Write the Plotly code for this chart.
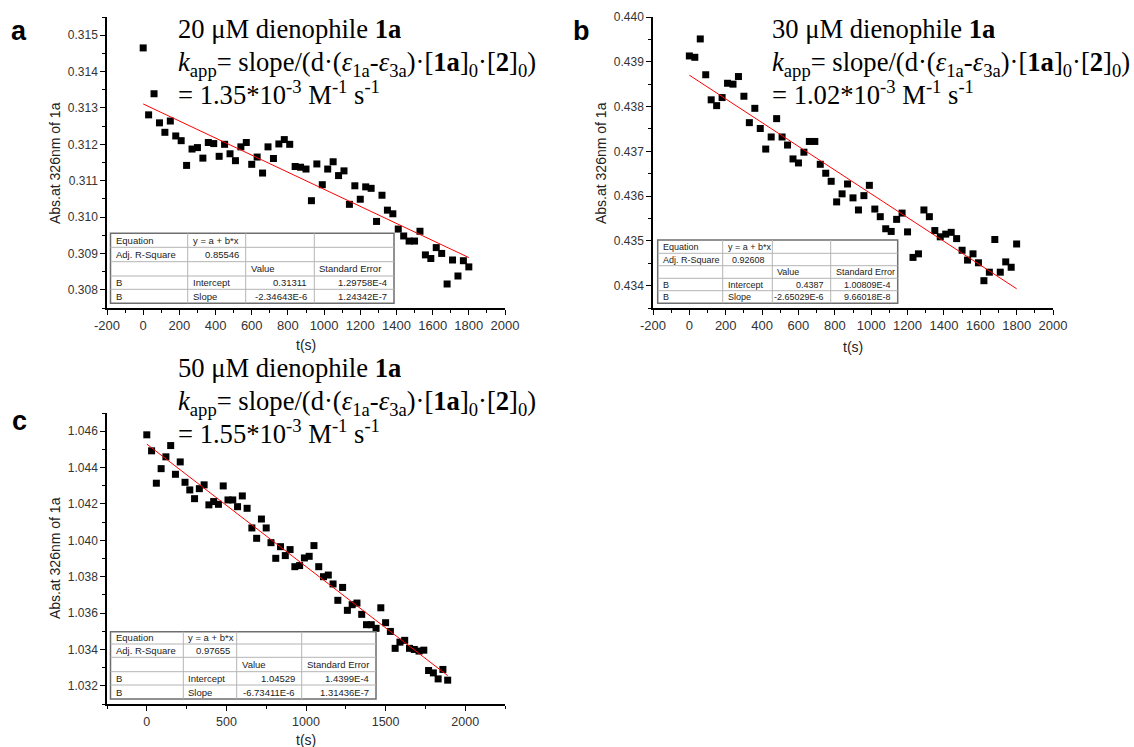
import plotly.graph_objects as go

W, H = 1134, 747

# ---------------- data ----------------
t_a = [0, 30, 60, 90, 120, 150, 180, 210, 240, 270, 300, 330, 360, 390, 420, 450, 480, 510, 540, 570,
       600, 630, 660, 690, 720, 750, 780, 810, 840, 870, 900, 930, 960, 990, 1020, 1050, 1080, 1110,
       1140, 1170, 1200, 1230, 1260, 1290, 1320, 1350, 1380, 1410, 1440, 1470, 1500, 1530, 1560, 1590,
       1620, 1650, 1680, 1710, 1740, 1770, 1800]
abs_a = [0.31465, 0.31281, 0.31339, 0.31259, 0.31233, 0.31264, 0.31223, 0.31210, 0.31142, 0.31187,
         0.31191, 0.31162, 0.31205, 0.31202, 0.31167, 0.31200, 0.31174, 0.31155, 0.31193, 0.31205,
         0.31145, 0.31165, 0.31121, 0.31193, 0.31161, 0.31201, 0.31213, 0.31200, 0.31139, 0.31137,
         0.31132, 0.31045, 0.31146, 0.31089, 0.31132, 0.31152, 0.31114, 0.31127, 0.31035, 0.31086,
         0.31049, 0.31083, 0.31079, 0.30988, 0.31060, 0.31019, 0.31009, 0.30967, 0.30948, 0.30934,
         0.30934, 0.30961, 0.30896, 0.30886, 0.30916, 0.30900, 0.30816, 0.30882, 0.30838, 0.30880,
         0.30863]

t_b = [0, 30, 60, 90, 120, 150, 180, 210, 240, 270, 300, 330, 360, 390, 420, 450, 480, 510, 540, 570,
       600, 630, 660, 690, 720, 750, 780, 810, 840, 870, 900, 930, 960, 990, 1020, 1050, 1080, 1110,
       1140, 1170, 1200, 1230, 1260, 1290, 1320, 1350, 1380, 1410, 1440, 1470, 1500, 1530, 1560, 1590,
       1620, 1650, 1680, 1710, 1740, 1770, 1800]
abs_b = [0.43913, 0.43910, 0.43951, 0.43871, 0.43815, 0.43802, 0.43820, 0.43852, 0.43850, 0.43867,
         0.43823, 0.43764, 0.43796, 0.43751, 0.43705, 0.43732, 0.43773, 0.43732, 0.43714, 0.43683,
         0.43674, 0.43698, 0.43722, 0.43722, 0.43671, 0.43651, 0.43633, 0.43587, 0.43605, 0.43627,
         0.43596, 0.43569, 0.43601, 0.43624, 0.43571, 0.43554, 0.43527, 0.43521, 0.43548, 0.43562,
         0.43520, 0.43463, 0.43471, 0.43569, 0.43554, 0.43523, 0.43509, 0.43515, 0.43519, 0.43505,
         0.43479, 0.43457, 0.43471, 0.43451, 0.43411, 0.43430, 0.43503, 0.43430, 0.43453, 0.43441,
         0.43493]

t_c = [0, 30, 60, 90, 120, 150, 180, 210, 240, 270, 300, 330, 360, 390, 420, 450, 480, 510, 540, 570,
       600, 630, 660, 690, 720, 750, 780, 810, 840, 870, 900, 930, 960, 990, 1020, 1050, 1080, 1110,
       1140, 1170, 1200, 1230, 1260, 1290, 1320, 1350, 1380, 1410, 1440, 1470, 1500, 1530, 1560, 1590,
       1620, 1650, 1680, 1710, 1740, 1770, 1800, 1830, 1860, 1890]
abs_c = [1.04580, 1.04492, 1.04314, 1.04394, 1.04459, 1.04521, 1.04363, 1.04431, 1.04319, 1.04277,
         1.04229, 1.04284, 1.04305, 1.04195, 1.04213, 1.04198, 1.04299, 1.04222, 1.04222, 1.04185,
         1.04244, 1.04176, 1.04068, 1.04011, 1.04117, 1.04068, 1.03987, 1.03901, 1.03965, 1.03916,
         1.03949, 1.03855, 1.03861, 1.03903, 1.03912, 1.03971, 1.03855, 1.03800, 1.03809, 1.03760,
         1.03670, 1.03741, 1.03615, 1.03646, 1.03655, 1.03593, 1.03536, 1.03536, 1.03516, 1.03629,
         1.03547, 1.03499, 1.03406, 1.03440, 1.03450, 1.03406, 1.03400, 1.03391, 1.03396, 1.03284,
         1.03271, 1.03238, 1.03290, 1.03231]

# time-axis tick positions and labels (plain hyphen for negatives)
t_ticks_ab = [-200, 0, 200, 400, 600, 800, 1000, 1200, 1400, 1600, 1800, 2000]
t_labels_ab = ["-200", "0", "200", "400", "600", "800", "1000", "1200", "1400", "1600", "1800", "2000"]
t_ticks_c = [0, 500, 1000, 1500, 2000]
t_labels_c = ["0", "500", "1000", "1500", "2000"]

# linear fit results (y = a + b*x)
fit_a = {"intercept": 0.31311, "slope": -2.34643e-6, "r2": "0.85546",
         "int_txt": "0.31311", "slope_txt": "-2.34643E-6", "int_err": "1.29758E-4", "slope_err": "1.24342E-7"}
fit_b = {"intercept": 0.4387, "slope": -2.65029e-6, "r2": "0.92608",
         "int_txt": "0.4387", "slope_txt": "-2.65029E-6", "int_err": "1.00809E-4", "slope_err": "9.66018E-8"}
fit_c = {"intercept": 1.04529, "slope": -6.73411e-6, "r2": "0.97655",
         "int_txt": "1.04529", "slope_txt": "-6.73411E-6", "int_err": "1.4399E-4", "slope_err": "1.31436E-7"}

conc_labels = ["20", "30", "50"]
k_app_labels = ["1.35", "1.02", "1.55"]


def px(x):
    return x / W


def py(y):
    return 1 - y / H


fig = go.Figure()

panels = [
    # name, t, abs, fit, x-dom px, y-dom px, x-range, x-ticks, x-labels, x-minor, y-range, y-dtick, y-minor
    ("a", t_a, abs_a, fit_a, (107, 505), (17, 308), [-200, 2000], t_ticks_ab, t_labels_ab, 100,
     [0.3075, 0.3155], 0.001, 0.0005),
    ("b", t_b, abs_b, fit_b, (653, 1053), (17, 308), [-200, 2000], t_ticks_ab, t_labels_ab, 100,
     [0.4335, 0.4400], 0.001, 0.0005),
    ("c", t_c, abs_c, fit_c, (107, 505), (413, 704), [-250, 2250], t_ticks_c, t_labels_c, 250,
     [1.031, 1.047], 0.002, 0.001),
]

layout_axes = {}
for i, (name, t, ab, fit, xd, yd, xr, xtv, xtt, xmin, yr, ydt, ymin) in enumerate(panels):
    n = "" if i == 0 else str(i + 1)
    xa, ya = "x" + n, "y" + n
    fig.add_trace(go.Scatter(x=t, y=ab, mode="markers", xaxis=xa, yaxis=ya,
                             marker=dict(symbol="square", size=7, color="black"),
                             showlegend=False, hoverinfo="skip"))
    t0, t1 = min(t), max(t)
    fig.add_trace(go.Scatter(x=[t0, t1],
                             y=[fit["intercept"] + fit["slope"] * t0, fit["intercept"] + fit["slope"] * t1],
                             mode="lines", xaxis=xa, yaxis=ya, line=dict(color="red", width=1),
                             showlegend=False, hoverinfo="skip"))
    xfs = 12.5 if name == "c" else 13
    layout_axes["xaxis" + n] = dict(
        domain=[px(xd[0]), px(xd[1])], anchor=ya, range=xr, tickmode="array", tickvals=xtv, ticktext=xtt,
        automargin=False,
        showline=True, linecolor="black", linewidth=1.5, ticks="outside", ticklen=5, tickwidth=1.2,
        tickcolor="black", showgrid=False, zeroline=False,
        tickfont=dict(family="Arial, Liberation Sans", size=xfs, color="#333333"),
        minor=dict(dtick=xmin, tick0=0, ticks="outside", ticklen=3, tickwidth=1, tickcolor="black",
                   showgrid=False),
    )
    layout_axes["yaxis" + n] = dict(
        domain=[py(yd[1]), py(yd[0])], anchor=xa, range=yr, dtick=ydt, tick0=0, tickformat=".3f",
        automargin=False,
        showline=True, linecolor="black", linewidth=1.5, ticks="outside", ticklen=5, tickwidth=1.2,
        tickcolor="black", showgrid=False, zeroline=False,
        tickfont=dict(family="Arial, Liberation Sans", size=12, color="#333333"),
        minor=dict(dtick=ymin, ticks="outside", ticklen=3, tickwidth=1, tickcolor="black", showgrid=False),
    )

annotations = []
shapes = []

# panel letters
for letter, x, y in [("a", 19, 31), ("b", 581, 31), ("c", 19, 421)]:
    annotations.append(dict(text="<b>%s</b>" % letter, x=px(x), y=py(y), xref="paper", yref="paper",
                            xanchor="center", yanchor="middle", showarrow=False,
                            font=dict(family="Arial, Liberation Sans", size=27, color="black")))

# axis titles
for x, y in [(306, 345), (853, 347), (306, 740)]:
    annotations.append(dict(text="t(s)", x=px(x), y=py(y), xref="paper", yref="paper",
                            xanchor="center", yanchor="middle", showarrow=False, borderpad=0,
                            font=dict(family="Arial, Liberation Sans", size=14, color="#222222")))
for x, y in [(55, 163), (601, 163), (55, 558)]:
    annotations.append(dict(text="Abs.at 326nm of 1a", x=px(x), y=py(y), xref="paper", yref="paper",
                            xanchor="center", yanchor="middle", showarrow=False, textangle=-90,
                            font=dict(family="Arial, Liberation Sans", size=14, color="#222222")))

# rate-constant text blocks
serif = dict(family="Liberation Serif, Times New Roman, serif", size=26.6, color="black")
line2 = ("<i>k</i><sub>app</sub>= slope/(d·(<i>ε</i><sub>1a</sub>-<i>ε</i><sub>3a</sub>)·"
         "[<b>1a</b>]<sub>0</sub>·[<b>2</b>]<sub>0</sub>)")
for conc, kval, x0, y0 in zip(conc_labels, k_app_labels, [177, 771, 177], [0, 0, 339]):
    rows = [("%s μM dienophile <b>1a</b>" % conc, 29, 30),
            (line2, 64, None),
            ("= %s*10<sup>-3</sup> M<sup>-1</sup> s<sup>-1</sup>" % kval, 93, None)]
    for txt, dy, hgt in rows:
        ann = dict(text=txt, x=px(x0), y=py(y0 + dy), xref="paper", yref="paper",
                   xanchor="left", yanchor="middle", showarrow=False, borderpad=0, font=serif)
        if hgt is not None:
            ann["height"] = hgt
        annotations.append(ann)


# fit-result tables
def add_table(fit, cols, rows, fs):
    left, right = cols[0], cols[-1]
    top, bottom = rows[0], rows[-1]
    shapes.append(dict(type="rect", xref="paper", yref="paper", x0=px(left), x1=px(right),
                       y0=py(bottom), y1=py(top), fillcolor="white",
                       line=dict(color="#6e6e6e", width=1.5), layer="above"))
    for c in cols[1:-1]:
        shapes.append(dict(type="line", xref="paper", yref="paper", x0=px(c), x1=px(c),
                           y0=py(bottom), y1=py(top), line=dict(color="#b4b4b4", width=1), layer="above"))
    for r in rows[1:-1]:
        shapes.append(dict(type="line", xref="paper", yref="paper", x0=px(left), x1=px(right),
                           y0=py(r), y1=py(r), line=dict(color="#b4b4b4", width=1), layer="above"))
    cells = [
        (0, 0, "Equation", "l"), (0, 1, "y = a + b*x", "l"),
        (1, 0, "Adj. R-Square", "l"), (1, 1, fit["r2"], "r"),
        (2, 2, "Value", "l"), (2, 3, "Standard Error", "l"),
        (3, 0, "B", "l"), (3, 1, "Intercept", "l"), (3, 2, fit["int_txt"], "r"), (3, 3, fit["int_err"], "r"),
        (4, 0, "B", "l"), (4, 1, "Slope", "l"), (4, 2, fit["slope_txt"], "r"), (4, 3, fit["slope_err"], "r"),
    ]
    for r, c, txt, al in cells:
        yc = (rows[r] + rows[r + 1]) / 2
        if al == "l":
            x, xa = cols[c] + 3, "left"
        else:
            x, xa = cols[c + 1] - 5, "right"
        annotations.append(dict(text=txt, x=px(x), y=py(yc), xref="paper", yref="paper",
                                xanchor=xa, yanchor="middle", showarrow=False,
                                font=dict(family="Arial, Liberation Sans", size=fs, color="#222222")))


add_table(fit_a, [110.5, 187.7, 245.7, 314.3, 394], [233.3, 247.3, 261.7, 276, 289.3, 303.3], 9.5)
add_table(fit_b, [657.7, 722.7, 772.3, 830.7, 897.7], [240, 253.3, 265.7, 278.3, 290.7, 303.3], 9)
add_table(fit_c, [110.5, 183.3, 236.7, 301.7, 376], [631.7, 644, 657.3, 671.7, 685, 699], 9.5)

fig.update_layout(
    width=W, height=H, margin=dict(l=0, r=0, t=0, b=0, pad=0, autoexpand=False),
    paper_bgcolor="white", plot_bgcolor="white",
    annotations=annotations, shapes=shapes, **layout_axes,
)

fig.write_html("out.html")
